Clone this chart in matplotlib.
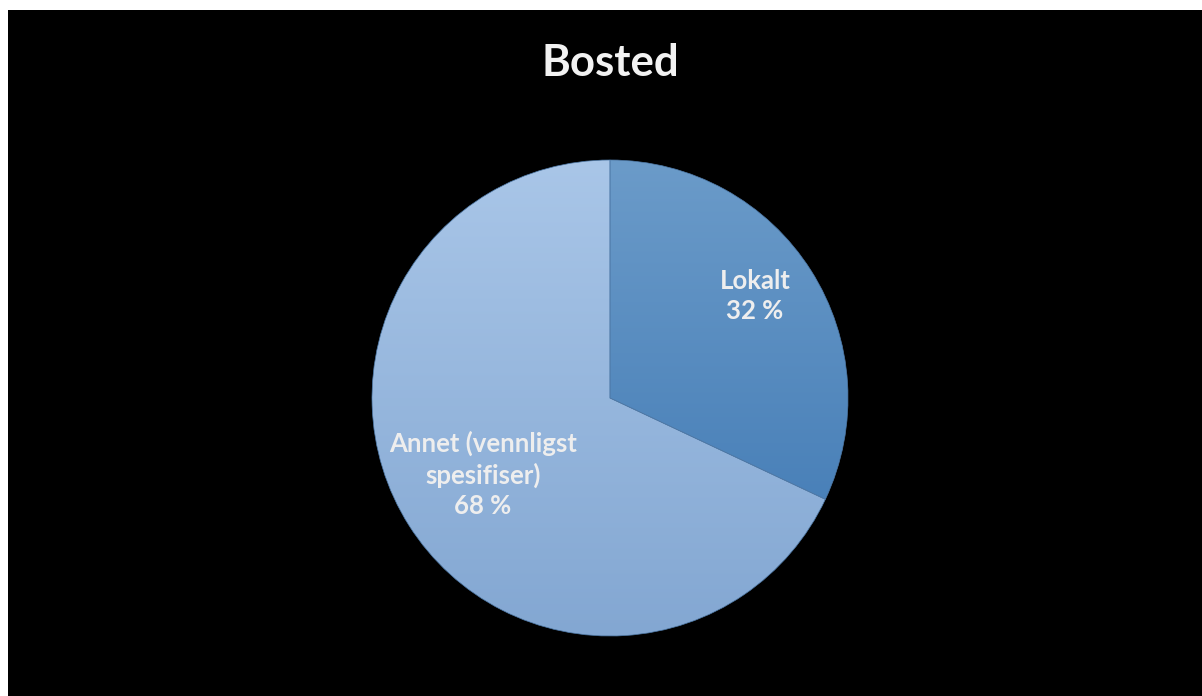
import numpy as np
import matplotlib.pyplot as plt
from matplotlib.patches import Rectangle

title = "Bosted"
labels = ["Lokalt", "Annet (vennligst\nspesifiser)"]
shares = [32, 68]
# top / bottom colours of the vertical gradient on each slice
grad_top = ["#6b9bc9", "#a9c6e8"]
grad_bottom = ["#3c76b2", "#83a7d2"]

W, H = 1202, 696
fig = plt.figure(figsize=(W / 100, H / 100), dpi=100, facecolor="white")
fig.patches.append(Rectangle((8 / W, 0), 1, 1 - 10 / H, transform=fig.transFigure,
                             facecolor="black", edgecolor="none", zorder=-10))

ax = fig.add_axes([0, 0, 1, 1])
ax.patch.set_visible(False)

cx, cy, r = 610, H - 398, 238
wedges, _ = ax.pie(shares, center=(cx, cy), radius=r, startangle=90, counterclock=False,
                   wedgeprops=dict(edgecolor="#4f7aa8", linewidth=0.5), frame=True)
ax.axis("off")
ax.set_aspect("equal")

def hex2rgb(h):
    h = h.lstrip("#")
    return np.array([int(h[i:i + 2], 16) / 255 for i in (0, 2, 4)])

for w, top, bot in zip(wedges, grad_top, grad_bottom):
    t = np.linspace(0, 1, 256)[:, None, None]
    img = hex2rgb(top) * (1 - t) + hex2rgb(bot) * t
    img = np.repeat(img, 2, axis=1)
    w.set_facecolor("none")
    im = ax.imshow(img, extent=(cx - r, cx + r, cy - r, cy + r), origin="upper",
                   aspect="auto", zorder=1, interpolation="bilinear")
    im.set_clip_path(w)
    w.set_zorder(2)

ax.set_xlim(0, W)
ax.set_ylim(0, H)

txt = dict(color="#eeeeee", fontsize=18.5, fontweight="bold", family=["Lato", "DejaVu Sans"],
           ha="center", va="center", linespacing=1.3, zorder=3)
ax.text(755, H - 296, f"{labels[0]}\n{shares[0]} %", **txt)
ax.text(483, H - 474, f"{labels[1]}\n{shares[1]} %", **txt)

ax.text(610, H - 63, title, color="#f2f2f2", fontsize=31.5, fontweight="bold",
        family=["Lato", "DejaVu Sans"], ha="center", va="center", zorder=3)

fig.savefig("out.png", dpi=100, facecolor="white")
